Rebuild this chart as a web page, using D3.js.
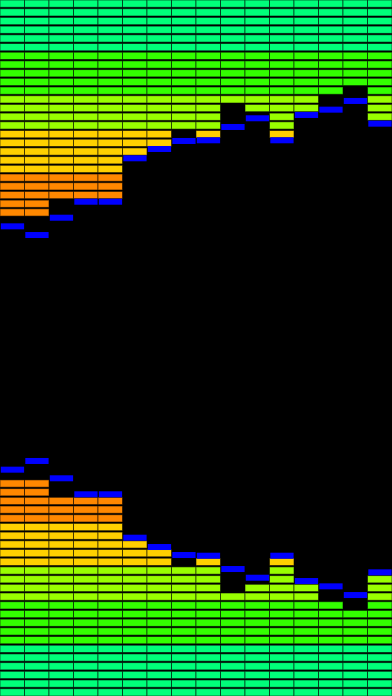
<!DOCTYPE html>
<html>
<head>
<meta charset="utf-8">
<script src="https://cdn.jsdelivr.net/npm/d3@7"></script>
<style>
  html, body { margin: 0; padding: 0; background: #000; overflow: hidden; }
  svg { display: block; }
</style>
</head>
<body>
<script>
// ---- data ----
const bands = d3.range(16);                       // spectrum bands (columns)
const levels = [25, 25, 23, 23, 23, 18, 17, 15, 16, 12, 13, 16, 13, 11, 10, 14]; // lit segments
const peaks = [25.67, 26.67, 24.68, 22.84, 22.84, 17.85, 16.78, 15.86, 15.78, 14.25, 13.25, 15.78, 12.87, 12.26, 11.26, 13.87]; // peak hold (segments)
const segmentCount = 40;
const colorStops = [6, 11, 15, 20, 25, 40];     // segment index thresholds
const colorNames = ["#00ff7a", "#33ff00", "#99ff00", "#ffd000", "#ff8800", "#ff2200"];

// ---- layout ----
const W = 392, H = 696;
const svg = d3.select("body").append("svg").attr("width", W).attr("height", H);
svg.append("rect").attr("width", W).attr("height", H).attr("fill", "#000");

const x = d3.scaleBand().domain(bands).range([0, W]).paddingInner(0).paddingOuter(0);
const yTop = d3.scaleLinear().domain([0, segmentCount]).range([0, H / 2]);
const yBot = d3.scaleLinear().domain([0, segmentCount]).range([H, H / 2]);
const color = d3.scaleThreshold().domain(colorStops.slice(0, -1)).range(colorNames);

const pitch = yTop(1) - yTop(0);
const segH = pitch - 1.4;
const peakH = 6;

const cells = [];
bands.forEach((b, i) => {
  for (let r = 0; r < levels[i]; r++) cells.push({ band: b, row: r });
});

function drawHalf(g, isTop) {
  g.selectAll("rect.seg").data(cells).join("rect")
    .attr("class", "seg")
    .attr("x", d => x(d.band))
    .attr("y", d => isTop ? yTop(d.row) : yBot(d.row) - segH)
    .attr("width", x.bandwidth())
    .attr("height", segH)
    .attr("fill", d => color(d.row))
    .attr("stroke", "rgba(0,0,0,0.55)")
    .attr("stroke-width", 1);

  g.selectAll("rect.peak").data(bands).join("rect")
    .attr("class", "peak")
    .attr("x", d => x(d) + 0.8)
    .attr("y", (d, i) => isTop ? yTop(peaks[i]) : yBot(peaks[i]) - peakH)
    .attr("width", x.bandwidth() - 1.2)
    .attr("height", peakH)
    .attr("fill", "#0000ff");
}

drawHalf(svg.append("g"), true);
drawHalf(svg.append("g"), false);
</script>
</body>
</html>
